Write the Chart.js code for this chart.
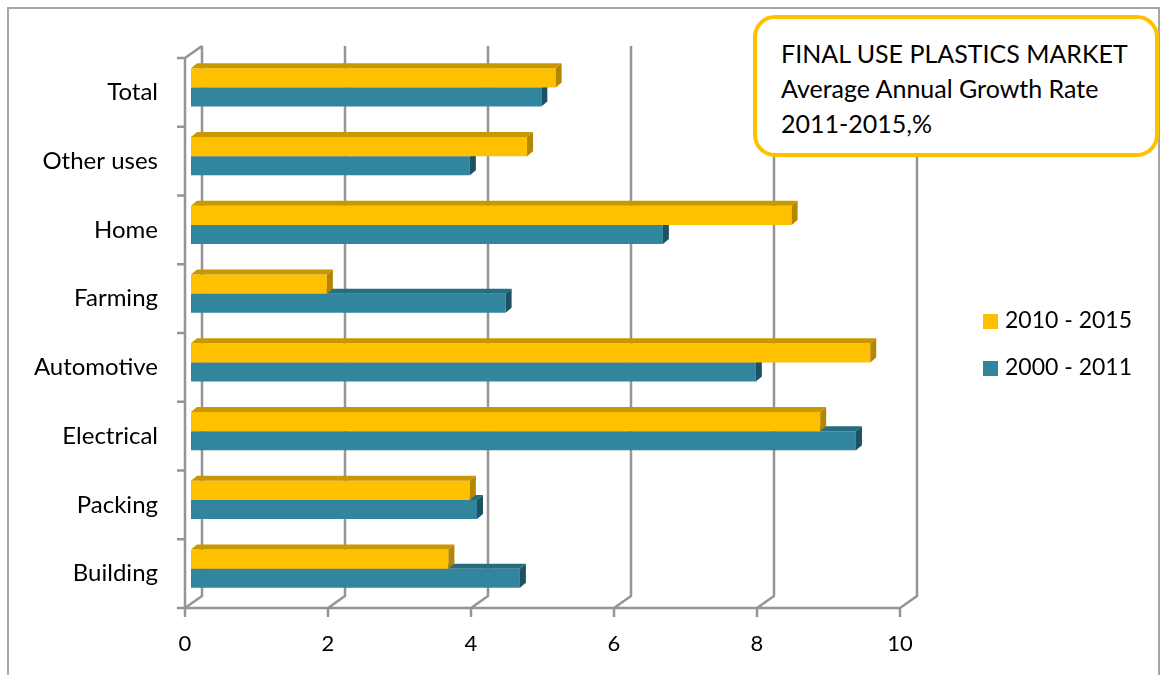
<!DOCTYPE html>
<html>
<head>
<meta charset="utf-8">
<title>Final use plastics market</title>
<script src="https://cdn.jsdelivr.net/npm/chart.js@4.4.1/dist/chart.umd.min.js"></script>
<style>
  body { margin: 0; background: #fff; }
  #wrap { position: relative; width: 1161px; height: 675px; overflow: hidden; }
  #frame { position: absolute; left: 7px; top: 7px; width: 1149px; height: 720px; border: 2px solid #a6a6a6; }
  #myChart { position: absolute; left: 0; top: 0; }
  #title {
    position: absolute; left: 753px; top: 15px; width: 406px; height: 142px;
    box-sizing: border-box; border: 4px solid #FFC000; border-radius: 22px; background: #fff;
    padding: 17px 0 0 24px; font: 25px/35px Lato, sans-serif; color: #000; white-space: nowrap;
  }
</style>
</head>
<body>
<div id="wrap">
  <div id="frame"></div>
  <canvas id="myChart" width="1161" height="675"></canvas>
  <div id="title">FINAL USE PLASTICS MARKET<br>Average Annual Growth Rate<br>2011-2015,%</div>
</div>
<script>
// Average annual growth rate by final use (%)
const categories = ['Total', 'Other uses', 'Home', 'Farming', 'Automotive', 'Electrical', 'Packing', 'Building'];
const growth2010to2015 = [5.1, 4.7, 8.4, 1.9, 9.5, 8.8, 3.9, 3.6];
const growth2000to2011 = [4.9, 3.9, 6.6, 4.4, 7.9, 9.3, 4.0, 4.6];
const seriesNames = ['2010 - 2015', '2000 - 2011'];
const xTicks = [0, 2, 4, 6, 8, 10];

// colours of the three visible faces of each bar
const faceColors = [
    { front: '#FFC000', top: '#C99800', side: '#B38700' },
    { front: '#31859C', top: '#276C80', side: '#1D5262' }
];

const WALL_DX = 17, WALL_DY = -12;   // depth of the back wall
const BAR_DX = 6, BAR_DY = -5;       // depth of the bars
const GRID = '#959595';

// back wall, floor and left wall drawn as fake 3D
const frame3d = {
    id: 'frame3d',
    beforeDatasetsDraw(chart) {
        const { ctx, chartArea: a, scales: { x } } = chart;
        ctx.save();
        ctx.strokeStyle = GRID;
        ctx.lineWidth = 2.5;
        ctx.lineJoin = 'round';
        ctx.beginPath();
        ctx.moveTo(a.left + WALL_DX, a.top + WALL_DY);
        ctx.lineTo(a.left, a.top);
        ctx.lineTo(a.left, a.bottom);
        const band = (a.bottom - a.top) / categories.length;
        for (let i = 0; i <= categories.length; i++) {
            const y = a.top + i * band;
            ctx.moveTo(a.left - 8, y);
            ctx.lineTo(a.left, y);
        }
        ctx.moveTo(a.left, a.bottom);
        ctx.lineTo(a.right, a.bottom);
        xTicks.forEach(v => {
            const xf = x.getPixelForValue(v);
            ctx.moveTo(xf + WALL_DX, a.top + WALL_DY);
            ctx.lineTo(xf + WALL_DX, a.bottom + WALL_DY);
            ctx.lineTo(xf, a.bottom);
            ctx.lineTo(xf, a.bottom + 9);
        });
        ctx.stroke();
        ctx.restore();

        // bars sit a little behind the front plane
        ctx.save();
        ctx.translate(BAR_DX, BAR_DY);
    },
    afterDatasetDraw(chart, args) {
        const ctx = chart.ctx;
        const faces = faceColors[args.index];
        args.meta.data.forEach(bar => {
            const { x, y, base, height } = bar.getProps(['x', 'y', 'base', 'height'], true);
            const top = y - height / 2, bottom = y + height / 2;
            ctx.fillStyle = faces.top;
            ctx.beginPath();
            ctx.moveTo(base, top);
            ctx.lineTo(x, top);
            ctx.lineTo(x + BAR_DX, top + BAR_DY);
            ctx.lineTo(base + BAR_DX, top + BAR_DY);
            ctx.closePath();
            ctx.fill();
            ctx.fillStyle = faces.side;
            ctx.beginPath();
            ctx.moveTo(x, top);
            ctx.lineTo(x + BAR_DX, top + BAR_DY);
            ctx.lineTo(x + BAR_DX, bottom + BAR_DY);
            ctx.lineTo(x, bottom);
            ctx.closePath();
            ctx.fill();
        });
    },
    afterDatasetsDraw(chart) {
        chart.ctx.restore();
    }
};

// legend to the right of the plot
const sideLegend = {
    id: 'sideLegend',
    afterDraw(chart) {
        const ctx = chart.ctx;
        ctx.save();
        ctx.font = '23px Lato';
        ctx.textBaseline = 'middle';
        chart.data.datasets.forEach((ds, i) => {
            const cy = 321 + i * 47;
            ctx.fillStyle = ds.backgroundColor;
            ctx.fillRect(983, cy - 7, 15, 15);
            ctx.fillStyle = '#000';
            ctx.fillText(ds.label, 1005, cy);
        });
        ctx.restore();
    }
};

Chart.defaults.font.family = 'Lato';
Chart.defaults.color = '#000';

const ctx = document.getElementById('myChart');
new Chart(ctx, {
    type: 'bar',
    data: {
        labels: categories,
        datasets: [
            {
                label: seriesNames[0],
                data: growth2010to2015,
                backgroundColor: faceColors[0].front,
                borderWidth: 0
            },
            {
                label: seriesNames[1],
                data: growth2000to2011,
                backgroundColor: faceColors[1].front,
                borderWidth: 0
            }
        ]
    },
    options: {
        indexAxis: 'y',
        responsive: false,
        animation: false,
        categoryPercentage: 0.555,
        barPercentage: 1,
        layout: {
            padding: { top: 58, right: 261, bottom: 0, left: 0 }
        },
        scales: {
            x: {
                min: 0,
                max: 10,
                grid: { display: false },
                border: { display: false },
                ticks: { stepSize: 2, padding: 15, font: { size: 22 } },
                afterFit(scale) { scale.height = 67; }
            },
            y: {
                grid: { display: false },
                border: { display: false },
                ticks: { padding: 19, autoSkip: false, font: { size: 24 } },
                afterFit(scale) { scale.width = 185; }
            }
        },
        plugins: {
            legend: { display: false },
            tooltip: { enabled: false }
        }
    },
    plugins: [frame3d, sideLegend]
});
</script>
</body>
</html>
